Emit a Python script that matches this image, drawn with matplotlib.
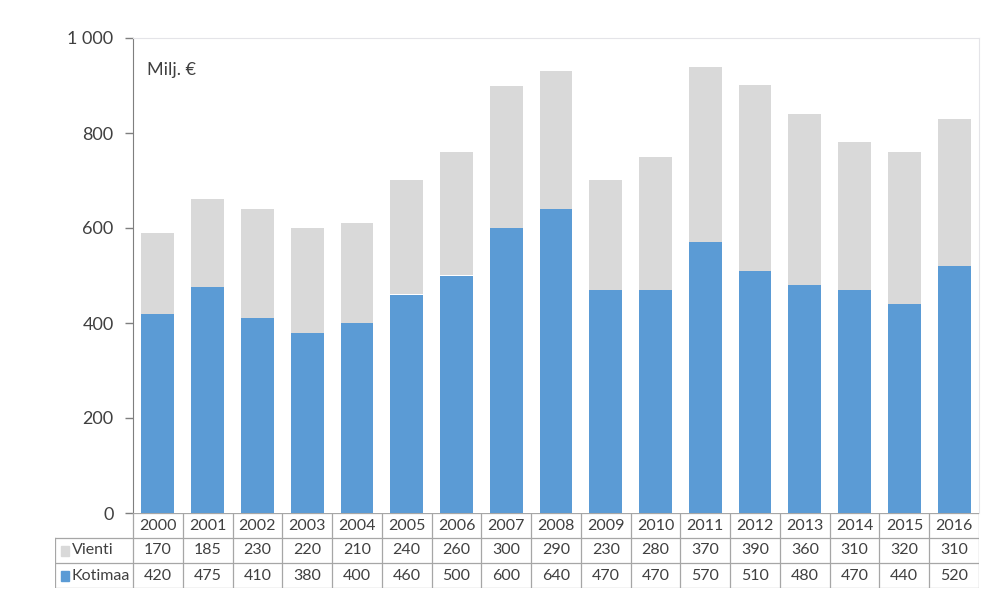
import matplotlib
matplotlib.use("Agg")
import matplotlib.pyplot as plt
from matplotlib.patches import Rectangle

years = [2000, 2001, 2002, 2003, 2004, 2005, 2006, 2007, 2008,
         2009, 2010, 2011, 2012, 2013, 2014, 2015, 2016]
vienti = [170, 185, 230, 220, 210, 240, 260, 300, 290,
          230, 280, 370, 390, 360, 310, 320, 310]
kotimaa = [420, 475, 410, 380, 400, 460, 500, 600, 640,
           470, 470, 570, 510, 480, 470, 440, 520]
yticks = [0, 200, 400, 600, 800, 1000]
ytick_labels = ["0", "200", "400", "600", "800", "1 000"]

BLUE = "#5B9BD5"
GREY = "#D9D9D9"
TXT = "#404040"
LINE = "#A6A6A6"

plt.rcParams["font.family"] = ["Lato", "DejaVu Sans"]

W, H = 1000, 610
fig = plt.figure(figsize=(W / 100, H / 100), dpi=100)

# main plot area in pixel coords
x0, x1, ytop, ybot = 133, 979, 38, 513
ax = fig.add_axes([x0 / W, 1 - ybot / H, (x1 - x0) / W, (ybot - ytop) / H])

n = len(years)
xs = list(range(n))
ax.bar(xs, kotimaa, width=0.66, color=BLUE, zorder=2)
ax.bar(xs, vienti, width=0.66, bottom=kotimaa, color=GREY, zorder=2)

ax.set_xlim(-0.5, n - 0.5)
ax.set_ylim(0, 1000)
ax.set_xticks([])
ax.set_yticks(yticks)
ax.set_yticklabels(ytick_labels, fontsize=13, color=TXT)
ax.tick_params(axis="y", length=6, width=1, color="#7F7F7F", pad=8)
for s in ["top", "right"]:
    ax.spines[s].set_color("#E4E4E8")
ax.spines["left"].set_color("#7F7F7F")
ax.spines["bottom"].set_visible(False)
ax.text(0.017, 0.932, "Milj. €", transform=ax.transAxes, fontsize=13,
        color=TXT, va="center", ha="left")

# data table below the plot
tl = 55
col_w = (x1 - x0) / n
label_w = (x0 - tl) / col_w
row_h = 25
tax = fig.add_axes([tl / W, 1 - (ybot + 3 * row_h) / H, (x1 - tl) / W, 3 * row_h / H])
tax.set_xlim(-0.5 - label_w, n - 0.5)
tax.set_ylim(0, 3)
tax.axis("off")

lw = 0.9
# horizontal lines
tax.plot([-0.5, n - 0.5], [3, 3], color=LINE, lw=lw)
for yv in [2, 1, 0]:
    tax.plot([-0.5 - label_w, n - 0.5], [yv, yv], color=LINE, lw=lw)
# vertical lines
for i in range(n + 1):
    tax.plot([i - 0.5, i - 0.5], [0, 3], color=LINE, lw=lw)
tax.plot([-0.5 - label_w] * 2, [0, 2], color=LINE, lw=lw)

fs = 11.5
for i, yr in enumerate(years):
    tax.text(i, 2.5, str(yr), ha="center", va="center", fontsize=fs, color=TXT)
    tax.text(i, 1.5, str(vienti[i]), ha="center", va="center", fontsize=fs, color=TXT)
    tax.text(i, 0.5, str(kotimaa[i]), ha="center", va="center", fontsize=fs, color=TXT)

for yv, name, c in [(1.5, "Vienti", GREY), (0.5, "Kotimaa", BLUE)]:
    tax.add_patch(Rectangle((-0.5 - label_w + 0.12, yv - 0.2), 0.16, 0.4,
                            color=c, clip_on=False))
    tax.text(-0.5 - label_w + 0.34, yv, name, ha="left", va="center",
             fontsize=fs, color=TXT)

fig.savefig("out.png", dpi=100)
